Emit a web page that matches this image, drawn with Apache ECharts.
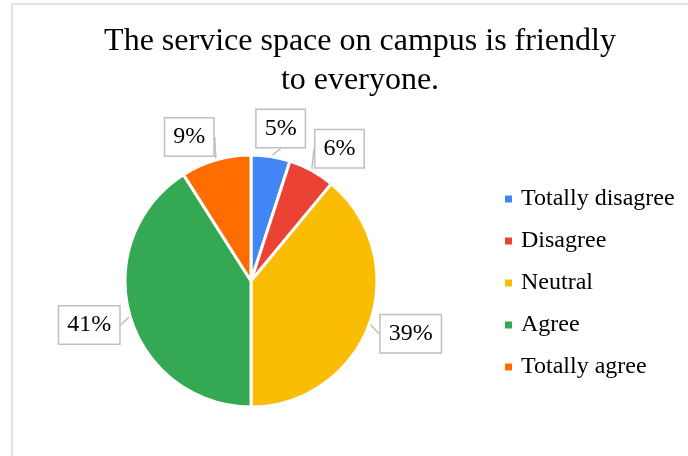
<!DOCTYPE html>
<html>
<head>
<meta charset="utf-8">
<script src="https://cdn.jsdelivr.net/npm/echarts@6/dist/echarts.min.js"></script>
<style>
  html, body { margin: 0; padding: 0; background: #fff; }
  #chart { width: 688px; height: 456px; }
</style>
</head>
<body>
<div id="chart"></div>
<script>
// Survey responses
const chartTitle = 'The service space on campus is friendly\nto everyone.';
const categories = ['Totally disagree', 'Disagree', 'Neutral', 'Agree', 'Totally agree'];
const shares = [5, 6, 39, 41, 9];
const sliceColors = ['#4285F4', '#EA4335', '#FBBC04', '#34A853', '#FF6D01'];

const serif = "'Liberation Serif', 'Times New Roman', serif";
const pieCenter = [251, 281];
const pieRadius = 126;
const calloutGap = 9;
// Small angular spread (degrees) so the callouts near the top do not crowd each other
const calloutSpreadDeg = [2, 5, -1.5, 1, -7];

const total = shares.reduce((a, b) => a + b, 0);

// Mid angle of each slice, measured clockwise from 12 o'clock
function midAngle(idx) {
  let before = 0;
  for (let i = 0; i < idx; i++) before += shares[i];
  return ((before + shares[idx] / 2) / total) * Math.PI * 2;
}

const chart = echarts.init(document.getElementById('chart'));

chart.setOption({
  animation: false,
  backgroundColor: '#ffffff',
  title: {
    text: chartTitle,
    left: 355,
    top: 17,
    textAlign: 'center',
    textStyle: {
      fontFamily: serif,
      fontSize: 32,
      fontWeight: 'normal',
      lineHeight: 39,
      color: '#000'
    }
  },
  legend: {
    orient: 'vertical',
    left: 500,
    top: 182,
    icon: 'rect',
    itemWidth: 7,
    itemHeight: 7,
    itemGap: 18,
    itemStyle: { borderWidth: 0 },
    textStyle: {
      fontFamily: serif,
      fontSize: 24,
      lineHeight: 24,
      color: '#000',
      padding: [0, 0, 0, 4]
    },
    data: categories
  },
  graphic: [{
    type: 'rect',
    silent: true,
    shape: { x: 12, y: 4, width: 720, height: 520 },
    style: { fill: 'none', stroke: '#d9d9d9', lineWidth: 1.5 }
  }],
  series: [{
    type: 'pie',
    center: pieCenter,
    radius: pieRadius,
    startAngle: 90,
    clockwise: true,
    itemStyle: { borderColor: '#ffffff', borderWidth: 3 },
    label: {
      show: true,
      position: 'outside',
      formatter: p => p.value + '%',
      fontFamily: serif,
      fontSize: 24,
      lineHeight: 24,
      color: '#000',
      backgroundColor: '#ffffff',
      borderColor: '#bfbfbf',
      borderWidth: 1.5,
      padding: [7, 8, 6, 8]
    },
    labelLine: {
      show: true,
      length: 8,
      length2: 0,
      lineStyle: { color: '#bfbfbf', width: 1.5 }
    },
    labelLayout: function (params) {
      const a = midAngle(params.dataIndex) + calloutSpreadDeg[params.dataIndex] * Math.PI / 180;
      const s = Math.sin(a), c = Math.cos(a);
      const hw = params.labelRect.width / 2;
      const hh = params.labelRect.height / 2;
      const ext = Math.min(
        Math.abs(s) > 1e-6 ? hw / Math.abs(s) : Infinity,
        Math.abs(c) > 1e-6 ? hh / Math.abs(c) : Infinity
      );
      const d = pieRadius + calloutGap + ext;
      return {
        x: pieCenter[0] + d * s,
        y: pieCenter[1] - d * c,
        align: 'center',
        verticalAlign: 'middle'
      };
    },
    data: categories.map((name, i) => ({
      name: name,
      value: shares[i],
      itemStyle: { color: sliceColors[i] }
    }))
  }]
});
</script>
</body>
</html>
